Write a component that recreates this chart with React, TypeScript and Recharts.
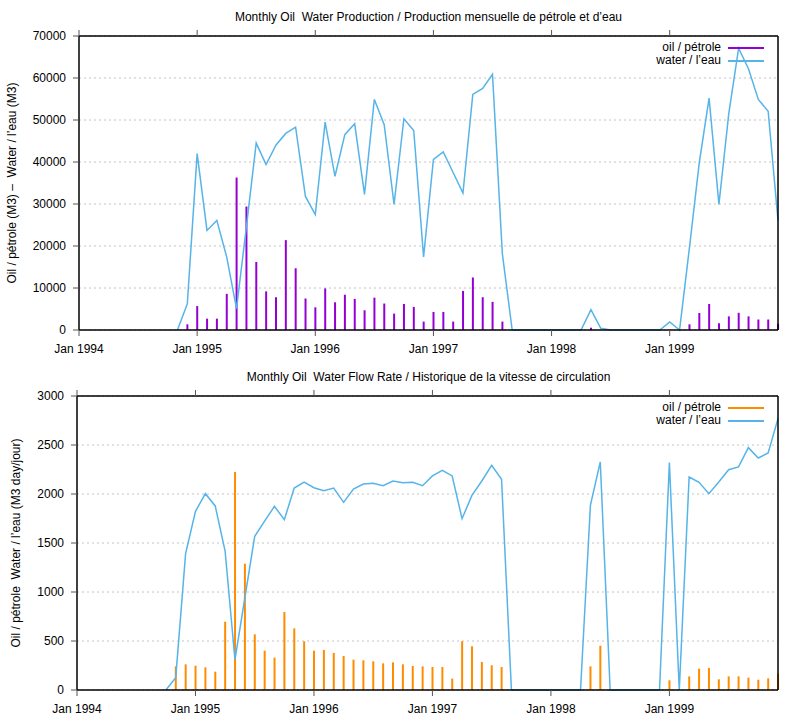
import React from 'react';
import { ComposedChart, Bar, Line, XAxis, YAxis, CartesianGrid } from 'recharts';

// month index 0 = Jan 1994 ... 71 = Dec 1999
const months = Array.from({ length: 72 }, (_, i) => i);
const tickMonths = [0, 12, 24, 36, 48, 60];
const tickLabels = ['Jan 1994', 'Jan 1995', 'Jan 1996', 'Jan 1997', 'Jan 1998', 'Jan 1999'];

const _ = null;

// monthly production (M3)
const oilVolume = [
  _, _, _, _, _, _, _, _, _, _, _, 1350,
  5700, 2700, 2700, 8600, 36300, 29400, 16200, 9200, 7800, 21400, 14700, 7500,
  5400, 9900, 6600, 8400, 7400, 4700, 7700, 6300, 3900, 6200, 5500, 2000,
  4300, 4300, 2000, 9300, 12500, 7800, 6700, 2000, _, _, _, _,
  _, _, _, _, 550, _, _, _, _, _, _, _,
  _, _, 1350, 4050, 6200, 1600, 3250, 4100, 3250, 2500, 2500, 1500,
];
const waterVolume = [
  _, _, _, _, _, _, _, _, _, _, 0, 6200,
  42000, 23700, 26100, 17400, 5100, 24500, 44500, 39400, 44000, 46800, 48300, 31800,
  27500, 49500, 36600, 46500, 49100, 32300, 54900, 48900, 29900, 50300, 47500, 17400,
  40600, 42400, 37500, 32600, 56100, 57500, 60900, 18200, 0, 0, 0, 0,
  0, 0, 0, 0, 4850, 400, 0, 0, 0, 0, 0, 0,
  1900, 0, 19500, 39800, 55200, 29900, 51500, 67100, 62200, 54900, 52100, 26100,
];

// monthly flow rate (M3 day/jour)
const oilRate = [
  _, _, _, _, _, _, _, _, _, _, 241, 262,
  248, 231, 187, 697, 2224, 1289, 568, 401, 330, 796, 629, 497,
  401, 408, 378, 347, 310, 303, 293, 272, 282, 262, 245, 241,
  235, 235, 116, 497, 446, 286, 252, 235, _, _, _, _,
  _, _, _, _, 241, 452, _, _, _, _, _, _,
  99, _, 139, 218, 224, 109, 139, 139, 126, 105, 119, 167,
];
const waterRate = [
  _, _, _, _, _, _, _, _, _, 0, 126, 1391,
  1823, 2003, 1878, 1418, 309, 940, 1568, 1724, 1874, 1738, 2061, 2122,
  2064, 2034, 2061, 1915, 2051, 2102, 2109, 2085, 2133, 2116, 2120, 2085,
  2184, 2241, 2184, 1748, 1986, 2133, 2293, 2150, 0, 0, 0, 0,
  0, 0, 0, 0, 1884, 2327, 0, 0, 0, 0, 0, 0,
  2320, 0, 2173, 2119, 2003, 2122, 2248, 2276, 2473, 2367, 2418, 2769,
];

const volumeTicks = [0, 10000, 20000, 30000, 40000, 50000, 60000, 70000];
const rateTicks = [0, 500, 1000, 1500, 2000, 2500, 3000];

const FONT = '"Liberation Sans", Arial, sans-serif';
const WATER = '#56b4e9';

const monthLabel = (v: number) => tickLabels[tickMonths.indexOf(v)] ?? '';
const blank = () => '';

type PanelProps = {
  top: number;
  title: string;
  yLabel: string;
  yLabelX: number;
  oil: (number | null)[];
  water: (number | null)[];
  oilColor: string;
  yTicks: number[];
  leftWidth: number;
};

function Panel({ top, title, yLabel, yLabelX, oil, water, oilColor, yTicks, leftWidth }: PanelProps) {
  const data = months.map((m, i) => ({ m, oil: oil[i], water: water[i] }));
  const axisLine = { stroke: '#000', strokeWidth: 1.5 };
  const tickLine = { stroke: '#555' };
  const tick = { fill: '#000', fontSize: 12, fontFamily: FONT };
  return (
    <div style={{ position: 'absolute', left: 0, top, width: 806, height: 360 }}>
      <ComposedChart width={806} height={360} data={data} margin={{ top: 0, right: 0, bottom: 0, left: 0 }}>
        <CartesianGrid xAxisId="b" yAxisId="l" vertical={false} stroke="#c4c4c4" strokeDasharray="2 3" />
        <XAxis xAxisId="b" dataKey="m" type="number" domain={[0, 71]} ticks={tickMonths} tickFormatter={monthLabel}
          height={30} axisLine={axisLine} tickLine={tickLine} tick={tick} tickSize={6} tickMargin={8} interval={0} />
        <XAxis xAxisId="t" dataKey="m" type="number" orientation="top" domain={[0, 71]} ticks={tickMonths}
          tickFormatter={blank} height={36} axisLine={axisLine} tickLine={tickLine} tickSize={6} interval={0} />
        <YAxis yAxisId="l" domain={[0, yTicks[yTicks.length - 1]]} ticks={yTicks} width={leftWidth}
          axisLine={axisLine} tickLine={tickLine} tick={tick} tickSize={6} tickMargin={7} interval={0} />
        <YAxis yAxisId="r" orientation="right" domain={[0, yTicks[yTicks.length - 1]]} ticks={yTicks} width={28}
          tickFormatter={blank} axisLine={axisLine} tickLine={tickLine} tickSize={6} interval={0} />
        <Bar xAxisId="b" yAxisId="l" dataKey="oil" fill={oilColor} barSize={2} isAnimationActive={false} />
        <Line xAxisId="b" yAxisId="l" dataKey="water" stroke={WATER} strokeWidth={1.5} dot={false}
          activeDot={false} isAnimationActive={false} type="linear" />
      </ComposedChart>
      <div style={{ position: 'absolute', left: 79, width: 699, top: 10, textAlign: 'center', fontSize: 12,
        lineHeight: '14px', whiteSpace: 'pre', fontFamily: FONT }}>{title}</div>
      <div style={{ position: 'absolute', left: yLabelX - 150, top: 183 - 7, width: 300, textAlign: 'center',
        fontSize: 12, lineHeight: '14px', whiteSpace: 'pre', fontFamily: FONT, transform: 'rotate(-90deg)' }}>
        {yLabel}
      </div>
      <div style={{ position: 'absolute', left: 600, top: 41, fontSize: 12, lineHeight: '13px', fontFamily: FONT }}>
        {[['oil / pétrole', oilColor], ['water / l’eau', WATER]].map(([name, color]) => (
          <div key={name} style={{ display: 'flex', alignItems: 'center', height: 13 }}>
            <span style={{ width: 121, textAlign: 'right', whiteSpace: 'pre' }}>{name}</span>
            <span style={{ marginLeft: 7, width: 36, height: 0, borderTop: `2px solid ${color}` }} />
          </div>
        ))}
      </div>
    </div>
  );
}

export default function App() {
  return (
    <div style={{ position: 'absolute', left: 0, top: 0, width: 806, height: 720, background: '#fff', fontFamily: FONT }}>
      <Panel top={0} title="Monthly Oil  Water Production / Production mensuelle de pétrole et d’eau"
        yLabel="Oil / pétrole (M3) –  Water / l’eau (M3)" yLabelX={12}
        oil={oilVolume} water={waterVolume} oilColor="#9400d3" yTicks={volumeTicks} leftWidth={79} />
      <Panel top={360} title="Monthly Oil  Water Flow Rate / Historique de la vitesse de circulation"
        yLabel="Oil / pétrole  Water / l’eau (M3 day/jour)" yLabelX={16}
        oil={oilRate} water={waterRate} oilColor="#ff8c00" yTicks={rateTicks} leftWidth={77} />
    </div>
  );
}
